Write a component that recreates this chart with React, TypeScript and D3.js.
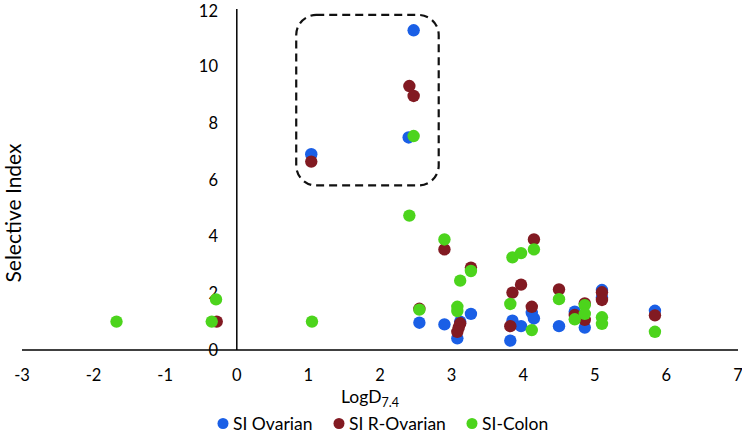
import * as d3 from 'd3';

// LogD7.4 vs selective index
const ovarianX = [2.47, 2.40, 1.04, 2.55, 2.90, 3.12, 3.08, 3.27, 4.12, 4.15, 3.85, 3.97, 3.82, 4.50, 4.72, 4.86, 5.10, 5.10, 5.84];
const ovarianY = [11.25, 7.48, 6.89, 0.96, 0.90, 1.00, 0.41, 1.27, 1.31, 1.11, 1.03, 0.84, 0.33, 0.84, 1.35, 0.79, 2.11, 1.85, 1.38];

const rOvarianX = [-0.28, 2.41, 2.47, 1.04, 2.90, 3.27, 2.55, 3.12, 3.10, 3.08, 3.97, 3.85, 4.15, 4.12, 3.82, 4.50, 4.72, 4.86, 4.86, 5.10, 5.10, 5.84];
const rOvarianY = [1.00, 9.29, 8.94, 6.63, 3.54, 2.90, 1.45, 0.94, 0.80, 0.64, 2.30, 2.02, 3.89, 1.52, 0.84, 2.13, 1.23, 1.64, 1.06, 2.03, 1.76, 1.22];

const colonX = [-1.68, -0.29, -0.35, 1.05, 2.47, 2.41, 2.90, 3.27, 3.12, 2.55, 3.08, 3.08, 3.85, 3.97, 4.15, 3.82, 4.12, 4.50, 4.72, 4.86, 4.86, 5.10, 5.10, 5.84];
const colonY = [1.00, 1.78, 1.00, 1.00, 7.53, 4.73, 3.89, 2.78, 2.44, 1.42, 1.52, 1.37, 3.26, 3.41, 3.54, 1.62, 0.70, 1.79, 1.08, 1.58, 1.27, 1.15, 0.92, 0.64];

const seriesNames = ['SI Ovarian', 'SI R-Ovarian', 'SI-Colon'];
const seriesColors = ['#1a5fe6', '#821a22', '#4cd41c'];

const xTicks = [-3, -2, -1, 0, 1, 2, 3, 4, 5, 6, 7];
const yTicks = [0, 2, 4, 6, 8, 10, 12];

// highlighted region (dashed box), data units
const boxX = [0.83, 2.82];
const boxY = [5.79, 11.79];

const W = 742, H = 433;
const font = 'Lato, "Open Sans", sans-serif';

export default function App() {
  const x = d3.scaleLinear().domain([-3, 7]).range([22, 738]);
  const y = d3.scaleLinear().domain([0, 12]).range([350, 9]);

  const series = [
    { xs: ovarianX, ys: ovarianY },
    { xs: rOvarianX, ys: rOvarianY },
    { xs: colonX, ys: colonY },
  ];

  const legendX = [223, 339, 472];

  return (
    <svg width={W} height={H} style={{ position: 'absolute', left: 0, top: 0, background: '#fff' }}>
      {/* axes */}
      <line x1={x(-3)} x2={x(7)} y1={y(0)} y2={y(0)} stroke="#000" strokeWidth={1.5} />
      <line x1={x(0)} x2={x(0)} y1={y(12)} y2={y(0)} stroke="#000" strokeWidth={1.5} />

      {yTicks.map(t => (
        <text key={'y' + t} x={218} y={Math.max(y(t), 11)} textAnchor="end" dominantBaseline="central"
          fontFamily={font} fontSize={16.5} fill="#000">{t}</text>
      ))}
      {xTicks.map(t => (
        <text key={'x' + t} x={x(t)} y={375} textAnchor="middle" dominantBaseline="central"
          fontFamily={font} fontSize={16.5} fill="#000">{t}</text>
      ))}

      <text x={341} y={403} fontFamily={font} fontSize={17.5} fill="#000">
        LogD<tspan fontSize={12.5} dy={4}>7.4</tspan>
      </text>
      <text transform={`translate(21,${213}) rotate(-90)`} textAnchor="middle"
        fontFamily={font} fontSize={21} fill="#000">Selective Index</text>

      {/* dashed highlight box */}
      <rect x={x(boxX[0])} y={y(boxY[1])} width={x(boxX[1]) - x(boxX[0])} height={y(boxY[0]) - y(boxY[1])}
        rx={20} ry={20} fill="none" stroke="#111" strokeWidth={2.2} strokeDasharray="8,5" />

      {series.map((s, i) => (
        <g key={i}>
          {s.xs.map((v, j) => (
            <circle key={j} cx={x(v)} cy={y(s.ys[j])} r={6.2} fill={seriesColors[i]} />
          ))}
        </g>
      ))}

      {/* legend */}
      {seriesNames.map((n, i) => (
        <g key={n}>
          <circle cx={legendX[i]} cy={423.5} r={5.5} fill={seriesColors[i]} />
          <text x={legendX[i] + 10} y={423.5} dominantBaseline="central" fontFamily={font} fontSize={17.5} fill="#000">{n}</text>
        </g>
      ))}
    </svg>
  );
}
